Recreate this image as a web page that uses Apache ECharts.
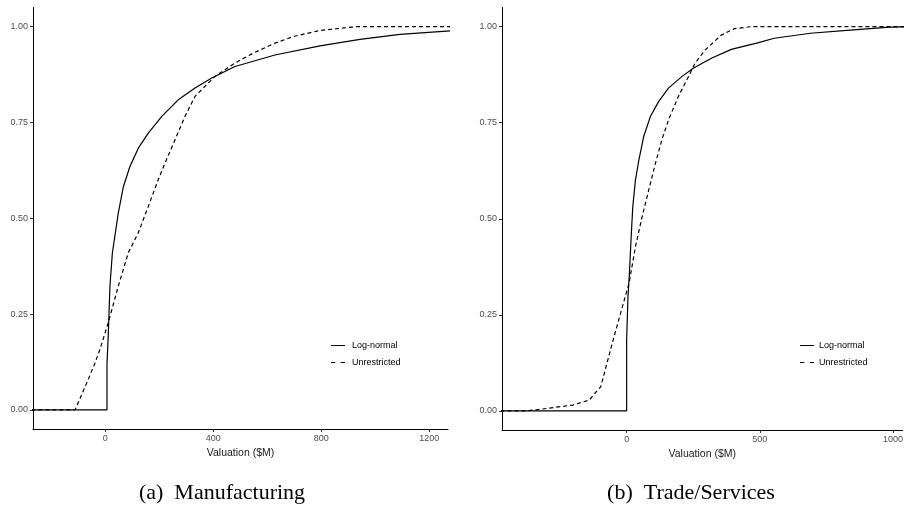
<!DOCTYPE html>
<html>
<head>
<meta charset="utf-8">
<script src="https://cdn.jsdelivr.net/npm/echarts@6/dist/echarts.min.js"></script>
<style>
  html, body { margin: 0; padding: 0; background: #fff; }
  #chart { width: 906px; height: 507px; }
</style>
</head>
<body>
<div id="chart"></div>
<script>
// Empirical CDFs of valuation ($M), as [valuation, cumulative share]
const mfgLogNormal = [
  [-300, 0], [6, 0], [6, 0.119], [11, 0.20], [17, 0.323], [26, 0.41], [37, 0.462],
  [48, 0.514], [67, 0.583], [91, 0.635], [122, 0.683], [159, 0.722],
  [209, 0.766], [270, 0.809], [332, 0.840], [394, 0.866], [480, 0.896],
  [628, 0.926], [795, 0.950], [943, 0.967], [1091, 0.980], [1300, 0.990]
];
const mfgUnrestricted = [
  [-300, 0], [-112, 0], [-63, 0.080], [-38, 0.123], [-20, 0.158], [11, 0.228],
  [48, 0.323], [85, 0.41], [122, 0.462], [159, 0.531], [196, 0.601],
  [221, 0.644], [258, 0.705], [295, 0.766], [332, 0.818], [381, 0.853],
  [406, 0.870], [480, 0.905], [548, 0.931], [628, 0.957], [700, 0.975],
  [795, 0.990], [931, 1.0], [1300, 1.0]
];
const tsLogNormal = [
  [-500, 0], [0, 0], [0, 0.184], [5, 0.297], [11, 0.366], [17, 0.453],
  [23, 0.531], [33, 0.601], [46, 0.653], [64, 0.714], [89, 0.766],
  [120, 0.805], [157, 0.840], [207, 0.870], [250, 0.892], [318, 0.918],
  [393, 0.941], [492, 0.958], [554, 0.970], [690, 0.983], [839, 0.991],
  [987, 0.999], [1060, 1.0]
];
const tsUnrestricted = [
  [-500, 0], [-375, 0], [-301, 0.006], [-202, 0.015], [-140, 0.028],
  [-120, 0.045], [-97, 0.063], [-54, 0.176], [-16, 0.271], [9, 0.332],
  [33, 0.427], [58, 0.505], [83, 0.575], [108, 0.644], [132, 0.705],
  [157, 0.757], [194, 0.818], [232, 0.870], [257, 0.905], [294, 0.939],
  [355, 0.978], [405, 0.995], [467, 1.0], [1060, 1.0]
];

const yTicks = [0, 0.25, 0.5, 0.75, 1.0];
const mfgXTicks = [0, 400, 800, 1200];
const tsXTicks = [0, 500, 1000];
const panelCaptions = ['(a)  Manufacturing', '(b)  Trade/Services'];
const seriesNames = ['Log-normal', 'Unrestricted'];

// Legend keys: a solid stroke and a two-dash stroke
const solidKey = 'path://M0,0H14V1H0Z';
const dashedKey = 'path://M0,0H4V1H0Z M9,0H13V1H9Z';

const chart = echarts.init(document.getElementById('chart'), null, { renderer: 'canvas' });

const axisLine = { show: true, onZero: false, lineStyle: { color: '#000', width: 1 } };
const tickLabel = { color: '#4d4d4d', fontSize: 9, fontFamily: 'Liberation Sans, Arial, sans-serif', margin: 5 };

function xAxis(gridIndex, min, max, ticks) {
  return {
    type: 'value', gridIndex, min, max,
    name: 'Valuation ($M)', nameLocation: 'middle', nameGap: 19,
    nameTextStyle: { color: '#1a1a1a', fontSize: 10.5, fontFamily: 'Liberation Sans, Arial, sans-serif' },
    axisLine, splitLine: { show: false },
    axisTick: { show: true, length: 3, customValues: ticks, lineStyle: { color: '#333' } },
    axisLabel: Object.assign({ customValues: ticks, formatter: v => String(v) }, tickLabel)
  };
}
function yAxis(gridIndex) {
  return {
    type: 'value', gridIndex, min: -0.05, max: 1.05,
    axisLine, splitLine: { show: false },
    axisTick: { show: true, length: 3, customValues: yTicks, lineStyle: { color: '#333' } },
    axisLabel: Object.assign({ customValues: yTicks, formatter: v => v.toFixed(2) }, tickLabel)
  };
}
function line(name, data, idx, dashed) {
  return {
    name, type: 'line', data, xAxisIndex: idx, yAxisIndex: idx,
    symbol: 'none', silent: true, animation: false, clip: true,
    lineStyle: { color: '#000', width: 1.2, type: dashed ? [4, 3] : 'solid' },
    itemStyle: { color: '#000' }
  };
}
function legend(left, gap) {
  return {
    orient: 'vertical', left, top: 340, padding: 0,
    data: [
      { name: seriesNames[0], icon: solidKey },
      { name: seriesNames[1], icon: dashedKey }
    ],
    itemWidth: 14, itemHeight: 1.2, itemGap: 6, selectedMode: false,
    textStyle: { color: '#000', fontSize: 9, lineHeight: 11, padding: [0, 0, 0, gap], fontFamily: 'Liberation Sans, Arial, sans-serif' }
  };
}

chart.setOption({
  backgroundColor: '#fff',
  animation: false,
  grid: [
    { left: 33, right: 458, top: 7.5, bottom: 78 },
    { left: 502, right: 0, top: 7.5, bottom: 77 }
  ],
  xAxis: [xAxis(0, -268, 1269, mfgXTicks), xAxis(1, -468, 1036, tsXTicks)],
  yAxis: [yAxis(0), yAxis(1)],
  legend: [legend(331, 2), legend(800, 0)],
  series: [
    line(seriesNames[0], mfgLogNormal, 0, false),
    line(seriesNames[1], mfgUnrestricted, 0, true),
    line(seriesNames[0], tsLogNormal, 1, false),
    line(seriesNames[1], tsUnrestricted, 1, true)
  ],
  graphic: [
    { type: 'text', x: 222, y: 493, style: { text: panelCaptions[0], fill: '#000', font: '22px "Liberation Serif", "Times New Roman", serif', align: 'center', verticalAlign: 'middle' } },
    { type: 'text', x: 691, y: 493, style: { text: panelCaptions[1], fill: '#000', font: '22px "Liberation Serif", "Times New Roman", serif', align: 'center', verticalAlign: 'middle' } }
  ]
});
</script>
</body>
</html>
